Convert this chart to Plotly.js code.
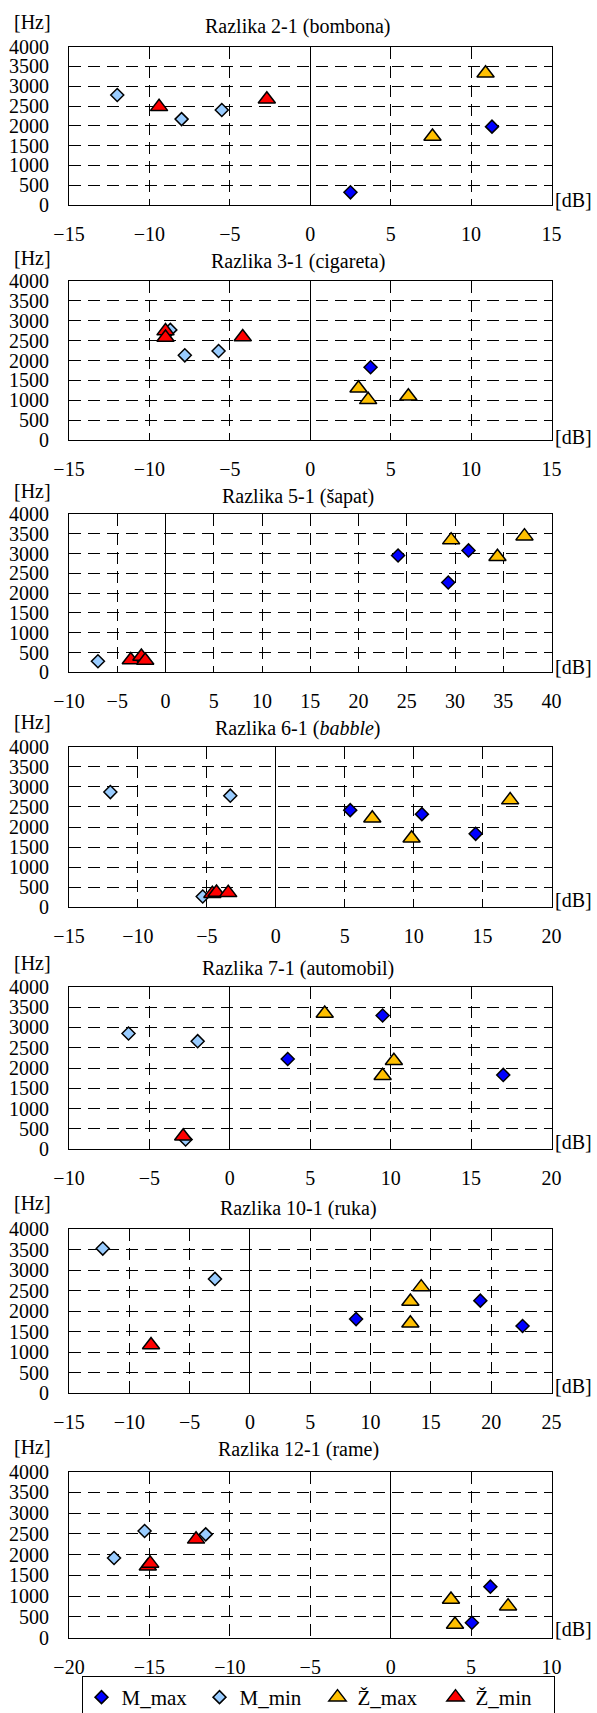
<!DOCTYPE html>
<html><head><meta charset="utf-8">
<script src="https://cdn.plot.ly/plotly-3.0.1.min.js"></script>
<style>html,body{margin:0;padding:0;background:#fff;overflow:hidden}
#frame{width:597px;height:1713px;overflow:hidden;position:relative}</style>
</head><body><div id="frame"><div id="chart" style="width:597px;height:1740px"></div></div>
<script>
// ---------------- DATA ----------------
const panelTitles = ['Razlika 2-1 (bombona)', 'Razlika 3-1 (cigareta)', 'Razlika 5-1 (šapat)',
  'Razlika 6-1 (<i>babble</i>)', 'Razlika 7-1 (automobil)', 'Razlika 10-1 (ruka)', 'Razlika 12-1 (rame)'];
const xMin = [-15, -15, -10, -15, -10, -15, -20];
const xMax = [15, 15, 40, 20, 20, 25, 10];
const yTicks = [0, 500, 1000, 1500, 2000, 2500, 3000, 3500, 4000];
const seriesNames = ['M_max', 'M_min', 'Ž_max', 'Ž_min'];

// Razlika 2-1 (bombona)
const p1_Mmax_x = [2.5, 11.3],        p1_Mmax_y = [320, 1980];
const p1_Mmin_x = [-12.0, -8.0, -5.5], p1_Mmin_y = [2780, 2170, 2400];
const p1_Zmax_x = [10.9, 7.6],        p1_Zmax_y = [3330, 1730];
const p1_Zmin_x = [-9.4, -2.7],       p1_Zmin_y = [2480, 2670];
// Razlika 3-1 (cigareta)
const p2_Mmax_x = [3.75],             p2_Mmax_y = [1830];
const p2_Mmin_x = [-8.7, -7.8, -5.7], p2_Mmin_y = [2770, 2130, 2240];
const p2_Zmax_x = [3.0, 3.6, 6.1],    p2_Zmax_y = [1300, 1010, 1100];
const p2_Zmin_x = [-9.0, -9.0, -4.2], p2_Zmin_y = [2740, 2580, 2590];
// Razlika 5-1 (šapat)
const p3_Mmax_x = [24.1, 29.3, 31.4], p3_Mmax_y = [2950, 2270, 3080];
const p3_Mmin_x = [-7.0],             p3_Mmin_y = [280];
const p3_Zmax_x = [29.6, 34.4, 37.2], p3_Zmax_y = [3340, 2920, 3440];
const p3_Zmin_x = [-3.6, -2.5, -2.1], p3_Zmin_y = [310, 400, 300];
// Razlika 6-1 (babble)
const p4_Mmax_x = [5.4, 10.6, 14.5],  p4_Mmax_y = [2420, 2320, 1830];
const p4_Mmin_x = [-12.0, -3.3, -5.3], p4_Mmin_y = [2870, 2780, 270];
const p4_Zmax_x = [7.0, 9.85, 17.0],  p4_Zmax_y = [2220, 1720, 2670];
const p4_Zmin_x = [-4.6, -4.3, -3.45], p4_Zmin_y = [340, 370, 360];
// Razlika 7-1 (automobil)
const p5_Mmax_x = [3.6, 9.5, 17.0],   p5_Mmax_y = [2220, 3290, 1830];
const p5_Mmin_x = [-6.3, -2.0, -2.75], p5_Mmin_y = [2850, 2660, 240];
const p5_Zmax_x = [5.9, 10.2, 9.5],   p5_Zmax_y = [3340, 2180, 1810];
const p5_Zmin_x = [-2.9],             p5_Zmin_y = [320];
// Razlika 10-1 (ruka)
const p6_Mmax_x = [8.8, 19.1, 22.6],  p6_Mmax_y = [1810, 2260, 1640];
const p6_Mmin_x = [-12.2, -2.9],      p6_Mmin_y = [3530, 2790];
const p6_Zmax_x = [13.3, 14.2, 13.3], p6_Zmax_y = [2240, 2590, 1710];
const p6_Zmin_x = [-8.2],             p6_Zmin_y = [1180];
// Razlika 12-1 (rame)
const p7_Mmax_x = [5.05, 6.2],        p7_Mmax_y = [360, 1230];
const p7_Mmin_x = [-17.2, -15.3, -11.5], p7_Mmin_y = [1920, 2570, 2490];
const p7_Zmax_x = [3.75, 4.0, 7.3],   p7_Zmax_y = [920, 320, 760];
const p7_Zmin_x = [-15.1, -14.95, -12.1], p7_Zmin_y = [1720, 1790, 2370];

const panelSeries = [
  [[p1_Mmax_x, p1_Mmax_y], [p1_Mmin_x, p1_Mmin_y], [p1_Zmax_x, p1_Zmax_y], [p1_Zmin_x, p1_Zmin_y]],
  [[p2_Mmax_x, p2_Mmax_y], [p2_Mmin_x, p2_Mmin_y], [p2_Zmax_x, p2_Zmax_y], [p2_Zmin_x, p2_Zmin_y]],
  [[p3_Mmax_x, p3_Mmax_y], [p3_Mmin_x, p3_Mmin_y], [p3_Zmax_x, p3_Zmax_y], [p3_Zmin_x, p3_Zmin_y]],
  [[p4_Mmax_x, p4_Mmax_y], [p4_Mmin_x, p4_Mmin_y], [p4_Zmax_x, p4_Zmax_y], [p4_Zmin_x, p4_Zmin_y]],
  [[p5_Mmax_x, p5_Mmax_y], [p5_Mmin_x, p5_Mmin_y], [p5_Zmax_x, p5_Zmax_y], [p5_Zmin_x, p5_Zmin_y]],
  [[p6_Mmax_x, p6_Mmax_y], [p6_Mmin_x, p6_Mmin_y], [p6_Zmax_x, p6_Zmax_y], [p6_Zmin_x, p6_Zmin_y]],
  [[p7_Mmax_x, p7_Mmax_y], [p7_Mmin_x, p7_Mmin_y], [p7_Zmax_x, p7_Zmax_y], [p7_Zmin_x, p7_Zmin_y]]
];

// ---------------- STYLE / LAYOUT ----------------
const W = 597, H = 1740;   // figure is a little taller than the 1713px frame, so the legend box runs off the bottom edge as in the original
const FONT = 'Liberation Serif, serif';
const seriesStyle = [
  {symbol: 'diamond', color: '#0000FF', size: 10},
  {symbol: 'diamond', color: '#99CCFF', size: 10},
  {symbol: 'triangle-up', color: '#FFC000', size: 15},
  {symbol: 'triangle-up', color: '#FF0000', size: 15}
];
const plotLeft = 69, plotRight = 551.5;
const panelTop =    [46.7, 281, 514, 746.7, 986.7, 1229.3, 1471.7];
const panelBottom = [205, 440, 672.3, 907.3, 1149.3, 1393.3, 1637.7];
const titleY = [26.7, 261.7, 496.7, 728.3, 968.3, 1208.3, 1449.3];
const hzY = [21.7, 258.3, 491, 721.7, 963.3, 1203.3, 1446.7];
const dbY = [200, 436.7, 666.7, 900, 1141.7, 1386, 1629.3];
const px2x = p => p / W;
const px2y = p => 1 - p / H;

const traces = [];
const layout = {
  width: W, height: H,
  margin: {l: 0, r: 0, t: 0, b: 0, autoexpand: false},
  paper_bgcolor: '#fff', plot_bgcolor: '#fff',
  font: {family: FONT, size: 20, color: '#000'},
  showlegend: true,
  legend: {
    orientation: 'h', x: px2x(318), xanchor: 'center', y: px2y(1676), yanchor: 'top',
    bordercolor: '#000', borderwidth: 1, bgcolor: '#fff',
    font: {family: FONT, size: 21, color: '#000'},
    entrywidth: 73, entrywidthmode: 'pixels', itemwidth: 30
  },
  annotations: []
};

panelSeries.forEach((series, i) => {
  const n = i + 1;
  const sfx = n === 1 ? '' : String(n);
  series.forEach((s, k) => {
    const st = seriesStyle[k];
    traces.push({
      type: 'scatter', mode: 'markers',
      x: s[0], y: s[1],
      name: seriesNames[k], legendgroup: seriesNames[k], showlegend: i === 0,
      xaxis: 'x' + sfx, yaxis: 'y' + sfx,
      marker: {symbol: st.symbol, color: st.color, size: st.size, line: {color: '#000', width: 1.5}},
      cliponaxis: false, hoverinfo: 'skip'
    });
  });
  layout['xaxis' + sfx] = {
    domain: [px2x(plotLeft), px2x(plotRight)],
    anchor: 'y' + sfx,
    range: [xMin[i], xMax[i]], dtick: 5, tick0: 0,
    showgrid: true, gridcolor: '#000', gridwidth: 1, griddash: '12px,7px',
    zeroline: true, zerolinecolor: '#000', zerolinewidth: 1,
    showline: true, mirror: true, linecolor: '#000', linewidth: 1,
    ticks: '', ticklabelstandoff: 11,
    tickfont: {family: FONT, size: 20, color: '#000'},
    fixedrange: true
  };
  layout['yaxis' + sfx] = {
    domain: [px2y(panelBottom[i]), px2y(panelTop[i])],
    anchor: 'x' + sfx,
    range: [0, 4000], tickvals: yTicks,
    showgrid: true, gridcolor: '#000', gridwidth: 1, griddash: '12px,7px',
    zeroline: false,
    showline: true, mirror: true, linecolor: '#000', linewidth: 1,
    ticks: '', ticklabelstandoff: 15,
    tickfont: {family: FONT, size: 20, color: '#000'},
    fixedrange: true
  };
  layout.annotations.push(
    {xref: 'paper', yref: 'paper', x: px2x(298), y: px2y(titleY[i]), xanchor: 'center', yanchor: 'middle',
     text: panelTitles[i], showarrow: false, font: {family: FONT, size: 20, color: '#000'}},
    {xref: 'paper', yref: 'paper', x: px2x(32.4), y: px2y(hzY[i]), xanchor: 'center', yanchor: 'middle',
     text: '[Hz]', showarrow: false, font: {family: FONT, size: 20, color: '#000'}},
    {xref: 'paper', yref: 'paper', x: px2x(573), y: px2y(dbY[i]), xanchor: 'center', yanchor: 'middle',
     text: '[dB]', showarrow: false, font: {family: FONT, size: 20, color: '#000'}}
  );
});

Plotly.newPlot('chart', traces, layout, {staticPlot: true, displayModeBar: false});
</script>
</body></html>
